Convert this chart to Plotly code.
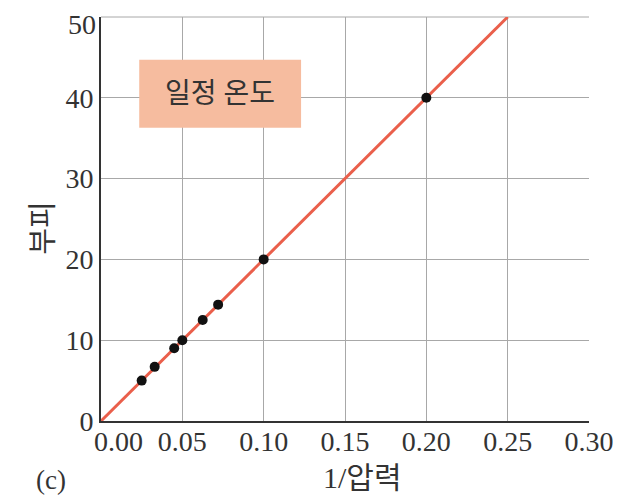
import plotly.graph_objects as go

# 데이터
inv_p = [0.025, 0.033, 0.045, 0.05, 0.0625, 0.072, 0.10, 0.20]
volume = [5.0, 6.7, 9.0, 10.0, 12.5, 14.4, 20.0, 40.0]
fit_x = [0.0, 0.25]
fit_y = [0.0, 50.0]
x_ticks = [0.00, 0.05, 0.10, 0.15, 0.20, 0.25, 0.30]
y_ticks = [0, 10, 20, 30, 40, 50]

serif = "Liberation Serif, Noto Sans CJK KR, serif"
grid = '#a8a8a8'
ink = '#333333'

# 0.00 라벨은 원본처럼 오른쪽으로 살짝 밀어 둠
x_text = [f"{v:.2f}" for v in x_ticks]
x_text[0] = "\u00a0" * 5 + x_text[0]
# 맨 위 50 라벨은 잘리지 않게 주석으로 따로 그림
y_text = [str(v) for v in y_ticks]
y_text[-1] = ""

fig = go.Figure()
fig.add_trace(go.Scatter(
    x=fit_x, y=fit_y, mode='lines',
    line=dict(color='#ea5f4b', width=3),
    showlegend=False
))
fig.add_trace(go.Scatter(
    x=inv_p, y=volume, mode='markers',
    marker=dict(color='#111111', size=10),
    showlegend=False
))

# 페이지 body 여백(8px)을 감안한 여백
fig.update_layout(
    width=621, height=502,
    margin=dict(l=93, r=40, t=9, b=89),
    plot_bgcolor='white', paper_bgcolor='white',
    font=dict(family=serif, size=26, color=ink),
    xaxis=dict(
        range=[0, 0.30], tickvals=x_ticks, ticktext=x_text,
        tickfont=dict(size=28), ticklabelstandoff=-6,
        ticklabeloverflow='allow',
        showgrid=True, gridcolor=grid, gridwidth=1,
        showline=True, linecolor=ink, linewidth=2,
        zeroline=False, ticks='', automargin=False,
    ),
    yaxis=dict(
        range=[0, 50], tickvals=y_ticks, ticktext=y_text,
        tickfont=dict(size=28), ticklabeloverflow='allow',
        showgrid=True, gridcolor=grid, gridwidth=1,
        showline=True, linecolor=ink, linewidth=2,
        zeroline=False, ticks='', automargin=False,
    ),
    shapes=[
        # 위쪽 테두리 격자선 (y=50)
        dict(type='line', xref='paper', yref='paper',
             x0=0, x1=1, y0=1, y1=1,
             line=dict(color=grid, width=1), layer='below'),
        dict(type='rect', xref='x', yref='y',
             x0=0.0235, x1=0.123, y0=36.3, y1=44.7,
             fillcolor='#f6bc9f', line=dict(width=0), layer='above'),
    ],
    annotations=[
        dict(text=str(y_ticks[-1]), x=0, y=y_ticks[-1], xref='paper', yref='y',
             xanchor='right', showarrow=False, xshift=-3, yshift=-7,
             font=dict(size=28, color=ink)),
        dict(text='일정 온도', x=0.073, y=40.5, xref='x', yref='y',
             showarrow=False, font=dict(size=28, color=ink)),
        dict(text='부피', x=-0.156, y=0.478, xref='paper', yref='paper',
             showarrow=False, textangle=-90,
             font=dict(size=29, color=ink)),
        dict(text='1/압력', x=0.535, y=-0.141, xref='paper', yref='paper',
             showarrow=False, yanchor='middle',
             font=dict(size=30, color=ink)),
        dict(text='(c)', x=-0.138, y=-0.146, xref='paper', yref='paper',
             showarrow=False, yanchor='middle',
             font=dict(size=27, color=ink)),
    ],
)

fig.write_html("out.html")
